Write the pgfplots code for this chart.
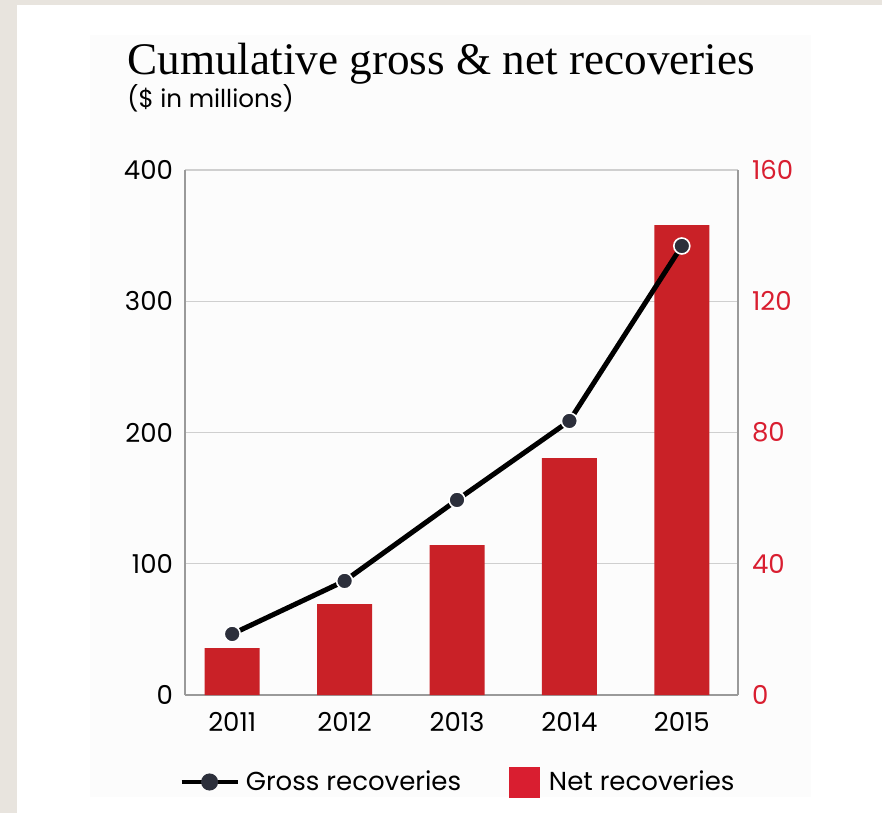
\documentclass[border=0pt]{standalone}
\usepackage{fontspec}
\usepackage{pgfplots}
\pgfplotsset{compat=1.18}
\setmainfont{Poppins}
\newfontfamily\titlefont{Liberation Serif}
\definecolor{bg}{HTML}{E8E4DE}
\definecolor{panel}{HTML}{FCFCFC}
\definecolor{barred}{HTML}{C92127}
\definecolor{lblred}{HTML}{D91E30}
\definecolor{gridc}{HTML}{CFCFCF}
\definecolor{spine}{HTML}{9A9A9A}
\definecolor{markc}{HTML}{2C2F3B}
\begin{document}
\begin{tikzpicture}
\fill[bg] (0pt,0pt) rectangle (441pt,406.5pt);
\fill[white] (8.5pt,0pt) rectangle (441pt,404pt);
\fill[panel] (45pt,8pt) rectangle (405.5pt,389pt);
\node[anchor=base west, inner sep=0pt, font=\titlefont\fontsize{22.6}{26}\selectfont] at (63.5pt,369pt) {Cumulative gross \& net recoveries};
\node[anchor=base west, inner sep=0pt, font=\fontsize{12.3}{14}\selectfont] at (63.5pt,352.5pt) {(\$ in millions)};

% Net recoveries: bars on the right axis
\begin{axis}[
  at={(92.5pt,59pt)}, anchor=south west, scale only axis,
  width=276.5pt, height=262.5pt,
  xmin=-0.42, xmax=4.5, ymin=0, ymax=160,
  axis x line*=bottom, axis y line*=right,
  axis line style={spine, line width=0.8pt},
  xtick={0,1,2,3,4}, xticklabels={2011,2012,2013,2014,2015},
  ytick={0,40,80,120,160},
  major tick length=0pt,
  ymajorgrids, grid style={gridc, line width=0.6pt},
  tick label style={font=\fontsize{13}{15}\selectfont},
  yticklabel style={text=lblred, xshift=3.5pt},
  xticklabel style={yshift=-5pt},
  /pgf/number format/assume math mode=true,
]
\addplot[ybar, bar shift=0pt, bar width=27.5pt, fill=barred, draw=none]
  coordinates {(0,14.3) (1,27.7) (2,45.7) (3,72.2) (4,143.2)};
\end{axis}

% Gross recoveries: line on the left axis
\begin{axis}[
  at={(92.5pt,59pt)}, anchor=south west, scale only axis,
  width=276.5pt, height=262.5pt,
  xmin=-0.42, xmax=4.5, ymin=0, ymax=400,
  axis y line*=left, axis x line=none,
  axis line style={spine, line width=0.8pt},
  ytick={0,100,200,300,400},
  major tick length=0pt,
  clip=false,
  tick label style={font=\fontsize{13}{15}\selectfont},
  yticklabel style={xshift=-2.5pt},
  /pgf/number format/assume math mode=true,
  legend columns=2,
  legend style={at={(0,0)}, anchor=west, xshift=-3pt, yshift=-43.5pt,
    draw=none, fill=none, inner sep=0pt,
    font=\fontsize{13}{15}\selectfont,
    /tikz/every even column/.append style={column sep=22pt}},
]
\addplot[black, line width=2.5pt, mark=*, mark size=4pt,
  mark options={fill=markc, draw=white, line width=0.8pt},
  legend image code/.code={
    \draw[black, line width=2.2pt] (0pt,0pt) -- (28pt,0pt);
    \fill[markc] (14pt,0pt) circle (3pt);}]
  coordinates {(0,46.5) (1,86.9) (2,148.6) (3,208.8) (4,342.1)};
\addlegendentry{\hspace{1pt}Gross recoveries}
\addlegendimage{legend image code/.code={\fill[lblred] (0pt,-7.5pt) rectangle (15pt,7.5pt);}}
\addlegendentry{\hspace{2.5pt}Net recoveries}
\end{axis}
\end{tikzpicture}
\end{document}
